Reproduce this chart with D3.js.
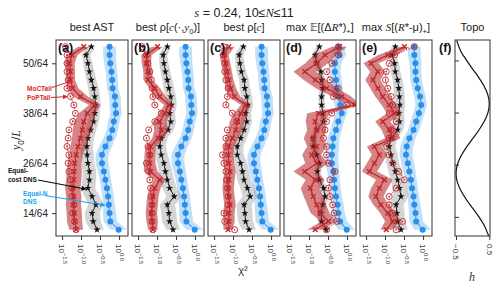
<!DOCTYPE html>
<html lang="en">
<head>
<meta charset="utf-8">
<script src="https://d3js.org/d3.v7.min.js"></script>
<style>
  body { margin: 0; background: #fff; }
  svg text { font-family: "Liberation Sans", Arial, sans-serif; }
</style>
</head>
<body>
<div id="my_dataviz"></div>
<script>
// y0/L positions of the 23 points, in 64ths, top to bottom
var y0s = [54,52,50,48,46,44,42,40,38,36,34,32,30,28,26,24,22,20,18,16,14,12,10];
var yTicks = [14,26,38,50];
var xTickExps = [-1.5,-1.0,-0.5,0.0];
var xTickText = ["\u22121.5","\u22121.0","\u22120.5","0.0"];

// all chi^2 values below are log10(chi^2)
// Equal-N DNS (blue)
var blueABC = [-0.25,-0.25,-0.23,-0.20,-0.18,-0.17,-0.11,-0.10,-0.08,-0.14,-0.18,-0.25,-0.36,-0.45,-0.45,-0.40,-0.36,-0.32,-0.29,-0.27,-0.25,-0.23,-0.01];
var blueD = [-0.23,-0.20,-0.32,-0.32,-0.29,-0.27,-0.23,-0.18,-0.14,-0.23,-0.29,-0.36,-0.38,-0.40,-0.40,-0.36,-0.34,-0.32,-0.29,-0.25,-0.23,-0.18,-0.01];
var blueE = [-0.23,-0.23,-0.20,-0.20,-0.18,-0.14,-0.08,-0.05,-0.11,-0.18,-0.25,-0.36,-0.43,-0.45,-0.40,-0.36,-0.32,-0.29,-0.25,-0.23,-0.20,-0.18,-0.01];
var blueSpread = [0.17,0.17,0.16,0.15,0.15,0.15,0.15,0.15,0.15,0.15,0.15,0.16,0.17,0.17,0.17,0.16,0.15,0.15,0.15,0.16,0.17,0.18,0.22];

// Equal-cost DNS (black stars)
var starA = [-0.73,-0.87,-0.82,-0.78,-0.73,-0.67,-0.64,-0.62,-0.64,-0.67,-0.75,-0.82,-0.85,-0.84,-0.82,-0.78,-0.78,-0.82,-0.71,-0.61,-0.71,-0.68,-0.58];
var starB = [-0.73,-0.84,-0.82,-0.78,-0.73,-0.69,-0.64,-0.62,-0.67,-0.64,-0.71,-0.89,-0.93,-0.89,-0.82,-0.78,-0.73,-0.67,-0.55,-0.73,-0.69,-0.67,-0.58];
var starC = [-0.73,-0.84,-0.82,-0.78,-0.71,-0.69,-0.64,-0.61,-0.67,-0.64,-0.71,-0.80,-0.89,-0.89,-0.80,-0.75,-0.71,-0.62,-0.55,-0.71,-0.69,-0.67,-0.58];
var starD = [-0.73,-0.84,-0.80,-0.69,-0.67,-0.64,-0.67,-0.67,-0.64,-0.62,-0.80,-0.89,-0.89,-0.80,-0.73,-0.78,-0.73,-0.62,-0.58,-0.64,-0.69,-0.67,-0.55];
var starE = [-0.73,-0.82,-0.75,-0.73,-0.67,-0.64,-0.62,-0.61,-0.64,-0.62,-0.67,-0.84,-0.89,-0.84,-0.80,-0.73,-0.67,-0.62,-0.58,-0.71,-0.69,-0.67,-0.58];
var graySpread = [0.10,0.11,0.12,0.13,0.13,0.14,0.14,0.14,0.14,0.14,0.15,0.16,0.16,0.17,0.17,0.18,0.18,0.19,0.20,0.20,0.20,0.20,0.18];
var graySpreadD = [0.08,0.08,0.08,0.08,0.08,0.08,0.08,0.08,0.08,0.08,0.09,0.09,0.09,0.09,0.09,0.09,0.09,0.10,0.10,0.10,0.10,0.10,0.09];

// MoCTail (red crosses, solid line, band)
var mocA = [-0.93,-1.24,-1.30,-1.28,-1.28,-1.22,-1.02,-0.64,-0.84,-0.93,-0.97,-1.02,-1.08,-1.13,-1.17,-1.18,-1.19,-1.22,-1.19,-1.20,-1.18,-1.17,-1.13];
var mocB = [-0.99,-1.28,-1.28,-1.24,-1.24,-1.06,-0.93,-0.69,-0.80,-0.93,-0.89,-0.97,-1.17,-1.19,-1.19,-1.17,-0.93,-1.06,-1.11,-1.13,-1.15,-1.13,-1.11];
var mocC = [-1.11,-1.24,-1.19,-1.15,-1.11,-1.06,-0.97,-0.67,-0.80,-0.89,-0.93,-1.02,-1.11,-1.13,-1.11,-1.08,-1.11,-1.13,-1.11,-1.08,-1.11,-1.11,-1.13];
var mocD = [-0.20,-0.58,-0.80,-1.11,-0.84,-0.54,-0.14,0.21,-0.75,-0.84,-0.80,-0.89,-0.80,-0.93,-0.80,-1.11,-0.84,-0.97,-0.89,-0.80,-0.71,-0.49,-0.84];
var mocE = [-0.49,-0.93,-1.37,-1.19,-1.32,-1.19,-1.06,-0.89,-0.75,-1.06,-0.89,-0.80,-1.28,-1.15,-1.28,-1.41,-1.02,-1.15,-1.24,-1.11,-0.93,-0.80,-0.97];
var redSpreadA = [0.15,0.15,0.13,0.12,0.12,0.15,0.20,0.15,0.22,0.25,0.25,0.22,0.20,0.18,0.18,0.20,0.20,0.20,0.20,0.20,0.20,0.20,0.18];
var redSpreadB = [0.15,0.14,0.12,0.12,0.12,0.14,0.16,0.12,0.15,0.18,0.18,0.16,0.14,0.14,0.15,0.18,0.15,0.15,0.15,0.15,0.15,0.15,0.12];
var redSpreadC = [0.15,0.12,0.12,0.12,0.12,0.14,0.16,0.12,0.18,0.20,0.18,0.16,0.14,0.14,0.14,0.15,0.15,0.15,0.15,0.15,0.15,0.15,0.12];
var redSpreadD = [0.20,0.30,0.30,0.30,0.30,0.28,0.25,0.15,0.30,0.25,0.25,0.25,0.25,0.25,0.30,0.30,0.25,0.25,0.25,0.25,0.25,0.20,0.20];
var redSpreadE = [0.12,0.25,0.20,0.20,0.20,0.20,0.20,0.20,0.20,0.20,0.20,0.20,0.20,0.20,0.20,0.20,0.22,0.22,0.20,0.20,0.20,0.20,0.15];

// PoPTail (red open circles, dotted line)
var popA = [-1.41,-1.37,-1.37,-1.37,-1.34,-1.37,-1.28,-1.19,-1.15,-1.22,-1.32,-1.34,-1.37,-1.32,-1.34,-1.32,-1.28,-1.24,-1.24,-1.19,-1.22,-1.17,-1.13];
var popB = [-1.39,-1.28,-1.24,-1.19,-1.15,-1.13,-1.11,-1.06,-0.89,-1.06,-1.22,-1.28,-1.24,-1.19,-1.28,-1.22,-1.19,-1.17,-1.15,-1.13,-1.13,-1.13,-1.11];
var popC = [-1.25,-1.25,-1.22,-1.22,-1.19,-1.13,-1.15,-1.19,-1.02,-0.90,-1.15,-1.19,-1.19,-1.28,-1.24,-1.19,-1.17,-1.15,-1.13,-1.13,-1.24,-1.22,-0.96];
var popD = [-0.23,-0.23,-0.40,-0.54,-0.45,-0.23,-0.36,-0.01,-0.40,-0.54,-0.58,-0.62,-0.54,-0.54,-0.49,-0.32,-0.45,-0.49,-0.45,-0.38,-0.34,-0.27,-0.54];
var popE = [-0.23,-0.75,-0.89,-0.97,-0.99,-0.93,-0.84,-0.80,-0.89,-0.71,-0.84,-0.89,-0.96,-0.89,-0.80,-0.64,-0.49,-0.71,-0.89,-0.89,-0.80,-0.54,-0.71];

// topography panel (f)
var topoY = [54.6,52,50,48,46,44,42,40,38,36,34,32,30,28,26,24,22,20,18,16,14,12,10,9.6];
var topoH = [-0.48,-0.35,-0.18,0.0,0.19,0.35,0.46,0.5,0.46,0.35,0.19,0.0,-0.19,-0.35,-0.46,-0.5,-0.46,-0.35,-0.19,0.0,0.19,0.35,0.46,0.48];

var labels = ["(a)","(b)","(c)","(d)","(e)"];

var panels = [
  {blue: blueABC, star: starA, gray: graySpread,  moc: mocA, red: redSpreadA, pop: popA},
  {blue: blueABC, star: starB, gray: graySpread,  moc: mocB, red: redSpreadB, pop: popB},
  {blue: blueABC, star: starC, gray: graySpread,  moc: mocC, red: redSpreadC, pop: popC},
  {blue: blueD,   star: starD, gray: graySpreadD, moc: mocD, red: redSpreadD, pop: popD},
  {blue: blueE,   star: starE, gray: graySpread,  moc: mocE, red: redSpreadE, pop: popE}
];

var serif = "'Liberation Serif', 'DejaVu Serif', serif";
var titles = [
  [["best AST"]],
  [["best \u03c1["],["c","it"],["(\u00b7,"],["y","it"],["0","sub"],[")]"]],
  [["best \u03c1["],["c","it"],["]"]],
  [["max "],["\ud835\udd3c","ds"],["[(\u0394"],["R","it"],["*)"],["+","sub"],["]"]],
  [["max "],["S","it"],["[("],["R","it"],["*-\u03bc)"],["+","sub"],["]"]],
  [["Topo"]]
];

var BLUE = "#2b8fea", RED = "#c0262b", BLACK = "#111";

var W = 500, H = 288;
var plotTop = 40, plotBottom = 236, pw = 72;
var lefts = [56,132,208,284,360];
var fLeft = 455, fRight = 490;

var svg = d3.select("#my_dataviz").append("svg")
  .attr("width", W).attr("height", H);

function rich(sel, segs, size) {
  var shift = 0;
  segs.forEach(function(s) {
    var t = sel.append("tspan").text(s[0]);
    var want = 0;
    if (s[1] === "it") t.style("font-family", serif).style("font-style", "italic");
    if (s[1] === "ds") t.style("font-family", "'DejaVu Sans', sans-serif").style("font-size", (size*0.95) + "px");
    if (s[1] === "sub") { want = size*0.3; t.style("font-size", (size*0.7) + "px"); }
    if (s[1] === "sup") { want = -size*0.45; t.style("font-size", (size*0.72) + "px"); }
    if (want !== shift) { t.attr("dy", want - shift); shift = want; }
  });
}

// main title
var tt = svg.append("text").attr("x", 244).attr("y", 17).attr("text-anchor", "middle")
  .style("font-size", "12.5px").attr("fill", "#222");
rich(tt, [["s","it"],[" = 0.24, 10\u2264"],["N","it"],["\u226411"]], 12.5);

var defs = svg.append("defs");
function arrowHead(id, color) {
  defs.append("marker").attr("id", id).attr("viewBox", "0 0 10 10")
    .attr("refX", 9).attr("refY", 5).attr("markerWidth", 5).attr("markerHeight", 5)
    .attr("orient", "auto")
    .append("path").attr("d", "M0,0L10,5L0,10z").attr("fill", color);
}
arrowHead("arRed", "#d42a2a");
arrowHead("arBlack", "#000");
arrowHead("arBlue", "#1aa3ee");

var y = d3.scaleLinear().domain([8.5/64, 55.6/64]).range([plotBottom, plotTop]);
var starSym = d3.symbol().type(d3.symbolStar).size(16);
var xSym = d3.symbol().type(d3.symbolTimes || d3.symbolX).size(16);
var pts = d3.range(y0s.length);

var scales = [];

panels.forEach(function(p, k) {
  var L = lefts[k];
  var x = d3.scaleLog().domain([Math.pow(10, -1.66), Math.pow(10, 0.235)]).range([L, L + pw]);
  scales.push(x);
  var X = function(e) { return x(Math.pow(10, e)); };
  var Y = function(i) { return y(y0s[i] / 64); };

  var g = svg.append("g");
  var clipId = "clip" + k;
  defs.append("clipPath").attr("id", clipId).append("rect")
    .attr("x", L).attr("y", plotTop).attr("width", pw).attr("height", plotBottom - plotTop);
  var c = g.append("g").attr("clip-path", "url(#" + clipId + ")");

  function band(vals, spread, fill, op) {
    c.append("path").datum(pts)
      .attr("d", d3.area().y(Y).x0(function(i){ return X(vals[i] - spread[i]); })
                           .x1(function(i){ return X(vals[i] + spread[i]); }))
      .attr("fill", fill).attr("opacity", op);
  }
  function line(vals, color, w, dash) {
    c.append("path").datum(pts)
      .attr("d", d3.line().x(function(i){ return X(vals[i]); }).y(Y))
      .attr("fill", "none").attr("stroke", color).attr("stroke-width", w)
      .attr("stroke-dasharray", dash || null);
  }

  // Equal-N DNS
  band(p.blue, blueSpread, "#74b9f0", 0.45);
  line(p.blue, BLUE, 1);
  c.selectAll(".bdot").data(pts).enter().append("circle")
    .attr("cx", function(i){ return X(p.blue[i]); }).attr("cy", Y)
    .attr("r", 3).attr("fill", BLUE);

  // Equal-cost DNS
  band(p.star, p.gray, "#9a9a9a", 0.42);
  line(p.star, BLACK, 0.9);
  c.selectAll(".star").data(pts).enter().append("path")
    .attr("d", starSym)
    .attr("transform", function(i){ return "translate(" + X(p.star[i]) + "," + Y(i) + ")"; })
    .attr("fill", BLACK);

  // MoCTail
  band(p.moc, p.red, "#b51f22", 0.55);
  line(p.moc, RED, 1.2);
  c.selectAll(".xm").data(pts).enter().append("path")
    .attr("d", xSym)
    .attr("transform", function(i){ return "translate(" + X(p.moc[i]) + "," + Y(i) + ")"; })
    .attr("fill", "none").attr("stroke", RED).attr("stroke-width", 1.4);

  // PoPTail
  line(p.pop, RED, 1, "1.3,1.3");
  c.selectAll(".pc").data(pts).enter().append("circle")
    .attr("cx", function(i){ return X(p.pop[i]); }).attr("cy", Y)
    .attr("r", 3).attr("fill", "none").attr("stroke", RED).attr("stroke-width", 0.9);
  c.selectAll(".pd").data(pts).enter().append("circle")
    .attr("cx", function(i){ return X(p.pop[i]); }).attr("cy", Y)
    .attr("r", 0.8).attr("fill", RED);

  // frame
  g.append("rect").attr("x", L).attr("y", plotTop).attr("width", pw).attr("height", plotBottom - plotTop)
    .attr("fill", "none").attr("stroke", "#333").attr("stroke-width", 1);

  // y axis ticks (outward)
  var ya = g.append("g").attr("transform", "translate(" + L + ",0)")
    .call(d3.axisLeft(y).tickValues(yTicks.map(function(v){ return v/64; }))
      .tickSize(4).tickFormat(function(v){ return k === 0 ? Math.round(v*64) + "/64" : ""; }));
  ya.select(".domain").remove();
  ya.selectAll(".tick line").attr("stroke", "#333");
  ya.selectAll(".tick text").style("font-size", "10px").attr("fill", "#222")
    .style("font-family", "'Liberation Sans', Arial, sans-serif").attr("dx", "-1");

  // x axis
  var xa = g.append("g").attr("transform", "translate(0," + plotBottom + ")")
    .call(d3.axisBottom(x).tickValues(xTickExps.map(function(e){ return Math.pow(10, e); }))
      .tickSize(4).tickFormat(""));
  xa.select(".domain").remove();
  xa.selectAll(".tick line").attr("stroke", "#333");
  xTickExps.forEach(function(e, j) {
    var tx = g.append("text")
      .attr("transform", "translate(" + X(e) + "," + (plotBottom + 8) + ") rotate(90)")
      .attr("dy", "0.33em").style("font-size", "8px").attr("fill", "#333");
    rich(tx, [["10"], [xTickText[j], "sup"]], 8);
  });

  // panel label
  g.append("text").attr("x", L + 2).attr("y", plotTop + 12).text(labels[k])
    .style("font-size", "12.5px").style("font-weight", "bold").attr("fill", "#111");

  // panel title
  var ptxt = g.append("text").attr("x", L + pw/2).attr("y", 31).attr("text-anchor", "middle")
    .style("font-size", "11px").attr("fill", "#222");
  rich(ptxt, titles[k], 11);
});

// panel (f): topography
var fy = d3.scaleLinear().domain([9.6/64, 54.7/64]).range([plotBottom, plotTop]);
var fx = d3.scaleLinear().domain([-0.5, 0.5]).range([456, 489.3]);
var fg = svg.append("g");
fg.append("path").datum(d3.range(topoY.length))
  .attr("d", d3.line().x(function(i){ return fx(topoH[i]); }).y(function(i){ return fy(topoY[i]/64); })
    .curve(d3.curveCatmullRom))
  .attr("fill", "none").attr("stroke", "#111").attr("stroke-width", 1.2);
fg.append("rect").attr("x", fLeft).attr("y", plotTop).attr("width", fRight - fLeft).attr("height", plotBottom - plotTop)
  .attr("fill", "none").attr("stroke", "#333").attr("stroke-width", 1);
var fya = fg.append("g").attr("transform", "translate(" + fLeft + ",0)")
  .call(d3.axisRight(fy).tickValues(yTicks.map(function(v){ return v/64; })).tickSize(4).tickFormat(""));
fya.select(".domain").remove();
fya.selectAll(".tick line").attr("stroke", "#333");
var fxa = fg.append("g").attr("transform", "translate(0," + plotBottom + ")")
  .call(d3.axisBottom(fx).tickValues([-0.5, 0.5]).tickSize(4).tickFormat(""));
fxa.select(".domain").remove();
fxa.selectAll(".tick line").attr("stroke", "#333");
[-0.5, 0.5].forEach(function(v) {
  fg.append("text").attr("transform", "translate(" + fx(v) + "," + (plotBottom + 8) + ") rotate(90)")
    .attr("dy", "0.33em").style("font-size", "8px").attr("fill", "#333")
    .text(v < 0 ? "\u22120.5" : "0.5");
});
fg.append("text").attr("x", 439).attr("y", plotTop + 12).text("(f)")
  .style("font-size", "12.5px").style("font-weight", "bold").attr("fill", "#111");
var ft = fg.append("text").attr("x", (fLeft + fRight)/2).attr("y", 31).attr("text-anchor", "middle")
  .style("font-size", "11px").attr("fill", "#222");
rich(ft, titles[5], 11);
fg.append("text").attr("x", 472).attr("y", 281).attr("text-anchor", "middle").text("h")
  .style("font-family", serif).style("font-style", "italic").style("font-size", "12px").attr("fill", "#333");

// axis labels
svg.append("text").attr("x", 243).attr("y", 274).attr("text-anchor", "middle")
  .style("font-size", "11px").attr("fill", "#333").text("\u03c7\u00b2");
var yl = svg.append("text").attr("transform", "translate(20,140) rotate(-90)")
  .attr("text-anchor", "middle").style("font-size", "12px").attr("fill", "#222");
rich(yl, [["y","it"],["0","sub"],["/"],["L","it"]], 12);

// annotations in panel (a), arrows end at data points
var xa0 = scales[0];
function XA(e) { return xa0(Math.pow(10, e)); }
function YA(i) { return y(y0s[i] / 64); }
function note(lines, x0, ys, color) {
  lines.forEach(function(t, j) {
    svg.append("text").attr("x", x0).attr("y", ys[j]).text(t)
      .style("font-size", "6.5px").style("font-weight", "bold").attr("fill", color);
  });
}
function arrow(x1, y1, x2, y2, color, id) {
  svg.append("line").attr("x1", x1).attr("y1", y1).attr("x2", x2).attr("y2", y2)
    .attr("stroke", color).attr("stroke-width", 1).attr("marker-end", "url(#" + id + ")");
}
note(["MoCTail"], 27, [90.5], "#d42a2a");
note(["PoPTail"], 27, [100], "#d42a2a");
arrow(52, 87.5, XA(mocA[4]) + 1, YA(4) + 1, "#d42a2a", "arRed");
arrow(51, 97.5, XA(popA[6]) - 3, YA(6), "#d42a2a", "arRed");
note(["Equal-", "cost DNS"], 8, [173, 182], "#111");
note(["Equal-N", "DNS"], 23, [195.5, 203.5], "#1aa3ee");
arrow(38, 180, XA(starA[17]) - 2, YA(17) + 1, "#000", "arBlack");
arrow(45, 195.5, XA(blueABC[19]) - 4, YA(19) + 0.5, "#1aa3ee", "arBlue");
</script>
</body>
</html>
